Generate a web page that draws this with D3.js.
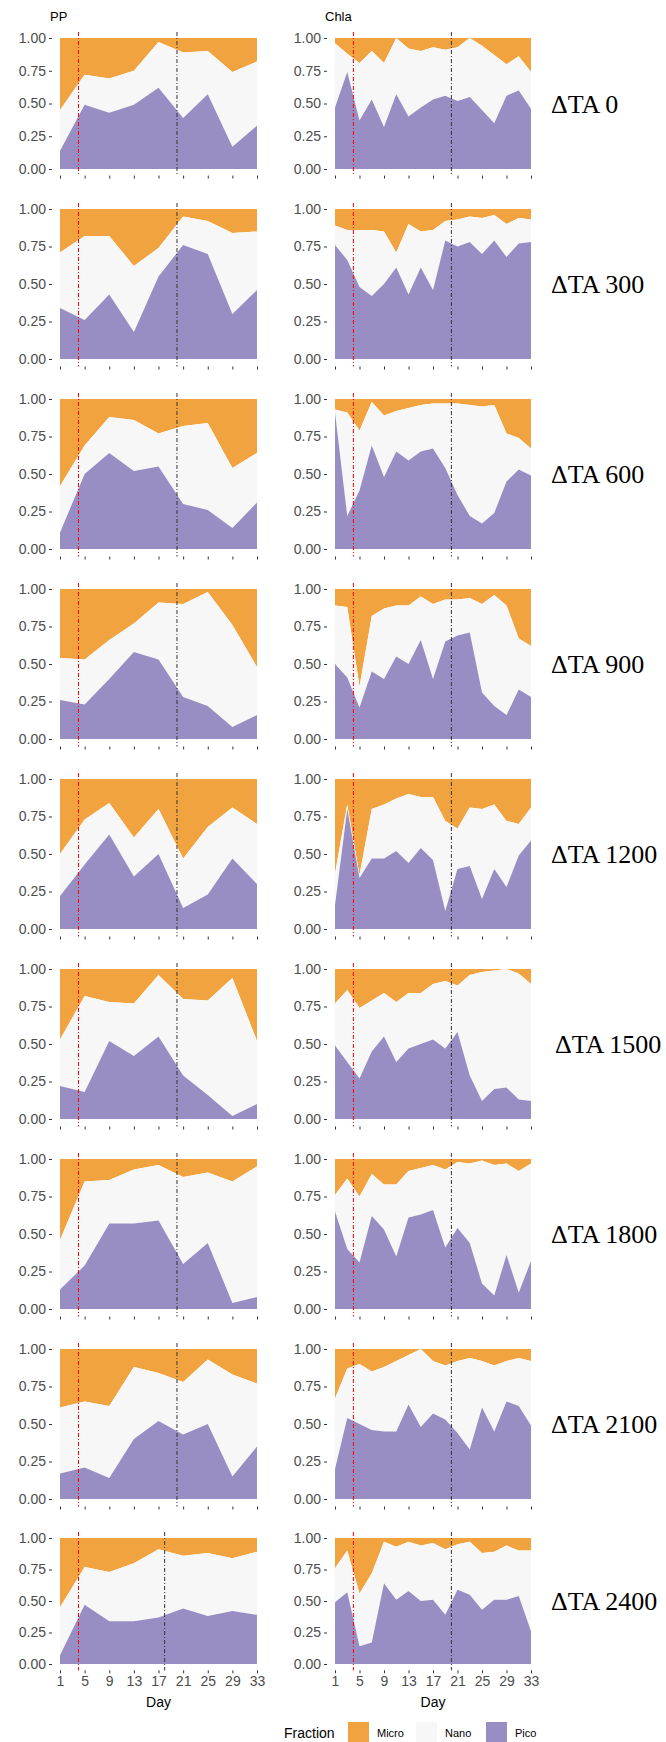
<!DOCTYPE html>
<html>
<head>
<meta charset="utf-8">
<script src="https://cdn.jsdelivr.net/npm/d3@7"></script>
<style>
  body { margin: 0; background: #fff; }
  svg { display: block; font-family: "Liberation Sans", Arial, sans-serif; }
</style>
</head>
<body>
<svg id="chart" width="666" height="1742"></svg>
<script>
// sample days
const ppDays = [1, 5, 9, 13, 17, 21, 25, 29, 33];
const chlaDays = d3.range(1, 34, 2);

const treatments = ["ΔTA 0", "ΔTA 300", "ΔTA 600", "ΔTA 900", "ΔTA 1200",
                    "ΔTA 1500", "ΔTA 1800", "ΔTA 2100", "ΔTA 2400"];

// PP: pico fraction and pico+nano (upper edge of nano) per treatment
const ppPico = [
  [0.14, 0.49, 0.43, 0.49, 0.62, 0.39, 0.57, 0.17, 0.33],
  [0.34, 0.26, 0.43, 0.18, 0.55, 0.76, 0.70, 0.30, 0.46],
  [0.11, 0.50, 0.64, 0.52, 0.55, 0.30, 0.26, 0.14, 0.31],
  [0.26, 0.23, 0.40, 0.58, 0.53, 0.28, 0.22, 0.08, 0.16],
  [0.22, 0.43, 0.63, 0.35, 0.50, 0.14, 0.23, 0.47, 0.30],
  [0.22, 0.18, 0.52, 0.42, 0.55, 0.29, 0.16, 0.02, 0.10],
  [0.13, 0.29, 0.57, 0.57, 0.59, 0.30, 0.44, 0.04, 0.08],
  [0.17, 0.21, 0.14, 0.40, 0.52, 0.43, 0.50, 0.15, 0.35],
  [0.07, 0.47, 0.34, 0.34, 0.37, 0.44, 0.38, 0.42, 0.39]
];
const ppPicoNano = [
  [0.45, 0.72, 0.69, 0.75, 0.97, 0.89, 0.90, 0.74, 0.82],
  [0.71, 0.82, 0.82, 0.62, 0.74, 0.95, 0.92, 0.84, 0.85],
  [0.42, 0.69, 0.88, 0.86, 0.77, 0.82, 0.84, 0.54, 0.64],
  [0.54, 0.53, 0.66, 0.77, 0.91, 0.90, 0.98, 0.76, 0.48],
  [0.50, 0.73, 0.84, 0.61, 0.80, 0.47, 0.68, 0.81, 0.70],
  [0.53, 0.82, 0.78, 0.77, 0.96, 0.80, 0.79, 0.94, 0.52],
  [0.46, 0.85, 0.86, 0.93, 0.96, 0.88, 0.91, 0.85, 0.95],
  [0.61, 0.65, 0.62, 0.88, 0.84, 0.78, 0.93, 0.83, 0.77],
  [0.45, 0.77, 0.73, 0.80, 0.91, 0.86, 0.88, 0.84, 0.89]
];

// Chla: pico fraction and pico+nano per treatment
const chlaPico = [
  [0.47, 0.74, 0.37, 0.53, 0.32, 0.57, 0.40, 0.47, 0.53, 0.56, 0.52, 0.55, 0.45, 0.35, 0.56, 0.60, 0.46],
  [0.76, 0.66, 0.48, 0.42, 0.50, 0.61, 0.43, 0.61, 0.46, 0.79, 0.75, 0.78, 0.70, 0.79, 0.68, 0.77, 0.78],
  [0.91, 0.22, 0.39, 0.69, 0.48, 0.65, 0.59, 0.65, 0.67, 0.54, 0.36, 0.22, 0.17, 0.24, 0.45, 0.53, 0.49],
  [0.50, 0.41, 0.21, 0.45, 0.40, 0.55, 0.50, 0.66, 0.40, 0.65, 0.69, 0.71, 0.31, 0.22, 0.16, 0.33, 0.28],
  [0.16, 0.80, 0.34, 0.47, 0.47, 0.52, 0.44, 0.54, 0.46, 0.12, 0.40, 0.42, 0.20, 0.40, 0.28, 0.49, 0.59],
  [0.49, 0.38, 0.27, 0.45, 0.55, 0.38, 0.47, 0.50, 0.53, 0.47, 0.58, 0.29, 0.12, 0.20, 0.21, 0.13, 0.12],
  [0.65, 0.40, 0.31, 0.62, 0.53, 0.35, 0.61, 0.63, 0.66, 0.41, 0.54, 0.44, 0.17, 0.09, 0.36, 0.11, 0.32],
  [0.20, 0.54, 0.50, 0.46, 0.45, 0.45, 0.63, 0.48, 0.57, 0.53, 0.44, 0.33, 0.61, 0.45, 0.65, 0.62, 0.49],
  [0.49, 0.57, 0.14, 0.17, 0.64, 0.51, 0.58, 0.50, 0.51, 0.39, 0.59, 0.55, 0.43, 0.51, 0.51, 0.54, 0.26]
];
const chlaPicoNano = [
  [0.96, 0.88, 0.81, 0.90, 0.81, 1.00, 0.92, 0.90, 0.93, 0.91, 0.93, 1.00, 0.94, 0.87, 0.80, 0.86, 0.74],
  [0.89, 0.86, 0.86, 0.86, 0.85, 0.71, 0.90, 0.85, 0.86, 0.92, 0.93, 0.95, 0.94, 0.96, 0.90, 0.94, 0.93],
  [0.93, 0.91, 0.79, 0.98, 0.89, 0.92, 0.94, 0.96, 0.97, 0.97, 0.97, 0.96, 0.95, 0.96, 0.77, 0.74, 0.67],
  [0.89, 0.88, 0.35, 0.82, 0.87, 0.89, 0.89, 0.95, 0.90, 0.93, 0.93, 0.94, 0.90, 0.96, 0.89, 0.67, 0.62],
  [0.37, 0.83, 0.36, 0.80, 0.83, 0.87, 0.90, 0.88, 0.88, 0.72, 0.67, 0.81, 0.80, 0.83, 0.72, 0.70, 0.81],
  [0.77, 0.86, 0.74, 0.79, 0.84, 0.78, 0.84, 0.84, 0.90, 0.92, 0.89, 0.96, 0.98, 0.99, 1.00, 0.97, 0.90],
  [0.76, 0.87, 0.75, 0.90, 0.83, 0.83, 0.92, 0.94, 0.96, 0.93, 0.98, 0.97, 0.99, 0.96, 0.97, 0.92, 0.97],
  [0.67, 0.87, 0.90, 0.85, 0.88, 0.92, 0.96, 1.00, 0.92, 0.89, 0.92, 0.94, 0.92, 0.89, 0.92, 0.94, 0.92],
  [0.76, 0.90, 0.56, 0.72, 0.97, 0.93, 0.97, 0.94, 0.96, 0.91, 0.95, 0.97, 0.88, 0.89, 0.94, 0.90, 0.90]
];

// reference lines (day): red = start, grey = second event
const redDay = 4;
const ppBlackDay = [20, 20, 20, 20, 20, 20, 20, 20, 18];
const chlaBlackDay = 20;

const fractions = ["Micro", "Nano", "Pico"];
const colors = { Micro: "#F1A340", Nano: "#F7F7F7", Pico: "#998EC3" };
const xTicks = [1, 5, 9, 13, 17, 21, 25, 29, 33];
const yTicks = [0, 0.25, 0.5, 0.75, 1];

const svg = d3.select("#chart");

// panel rows: first row shorter (titles), last row shorter (axis)
function rowBox(i) {
  if (i === 0) return { top: 38, h: 131 };
  if (i === 8) return { top: 1538, h: 126 };
  return { top: 209 + 190 * (i - 1), h: 150 };
}

const cols = [
  { x0: 60, x1: 257, days: ppDays, pico: ppPico, top: ppPicoNano, title: "PP" },
  { x0: 335, x1: 531, days: chlaDays, pico: chlaPico, top: chlaPicoNano, title: "Chla" }
];

cols.forEach((c, ci) => {
  svg.append("text").attr("x", c.x0 - 10).attr("y", 21)
    .attr("font-size", 13).attr("fill", "#000").text(c.title);

  treatments.forEach((t, ri) => {
    const b = rowBox(ri);
    const x = d3.scaleLinear().domain([1, 33]).range([c.x0, c.x1]);
    const y = d3.scaleLinear().domain([0, 1]).range([b.top + b.h, b.top]);
    const axisY = b.top + b.h + b.h * 0.05;
    const g = svg.append("g");

    const pts = c.days.map((d, k) => ({ day: d, pico: c.pico[ri][k], pn: c.top[ri][k] }));

    g.append("path").datum(pts).attr("fill", colors.Micro)
      .attr("d", d3.area().x(p => x(p.day)).y0(p => y(p.pn)).y1(y(1)));
    g.append("path").datum(pts).attr("fill", colors.Nano)
      .attr("d", d3.area().x(p => x(p.day)).y0(p => y(p.pico)).y1(p => y(p.pn)));
    g.append("path").datum(pts).attr("fill", colors.Pico)
      .attr("d", d3.area().x(p => x(p.day)).y0(y(0)).y1(p => y(p.pico)));

    // y axis
    const ya = g.append("g").attr("transform", `translate(${c.x0 - 8},0)`)
      .call(d3.axisLeft(y).tickValues(yTicks).tickFormat(d3.format(".2f")).tickSize(3).tickPadding(3));
    ya.select(".domain").remove();
    ya.selectAll("line").attr("stroke", "#333");
    ya.selectAll("text").attr("font-size", 14).attr("fill", "#4D4D4D")
      .attr("font-family", "Liberation Sans, Arial, sans-serif");

    // x axis
    const xa = g.append("g").attr("transform", `translate(0,${axisY})`)
      .call(d3.axisBottom(x).tickValues(xTicks).tickSize(3).tickPadding(3)
        .tickFormat(ri === 8 ? d3.format("d") : ""));
    xa.select(".domain").remove();
    xa.selectAll("line").attr("stroke", "#333");
    xa.selectAll("text").attr("font-size", 14).attr("fill", "#4D4D4D")
      .attr("font-family", "Liberation Sans, Arial, sans-serif");

    // reference lines
    const bd = ci === 0 ? ppBlackDay[ri] : chlaBlackDay;
    g.append("line").attr("x1", x(redDay)).attr("x2", x(redDay))
      .attr("y1", b.top - 6).attr("y2", axisY)
      .attr("stroke", "#FF0000").attr("stroke-width", 1).attr("stroke-dasharray", "4,2,1,2");
    g.append("line").attr("x1", x(bd)).attr("x2", x(bd))
      .attr("y1", b.top - 6).attr("y2", axisY)
      .attr("stroke", "#333").attr("stroke-width", 1).attr("stroke-dasharray", "4,2,1,2");

    if (ri === 8) {
      g.append("text").attr("x", (c.x0 + c.x1) / 2).attr("y", 1707)
        .attr("text-anchor", "middle").attr("font-size", 14).attr("fill", "#000").text("Day");
    }
    if (ci === 1) {
      svg.append("text").attr("x", t === "ΔTA 1500" ? 555 : 551).attr("y", b.top + b.h / 2 + 9)
        .attr("font-family", "Liberation Serif, Times New Roman, serif")
        .attr("font-size", 26).attr("fill", "#000").text(t);
    }
  });
});

// legend
const leg = svg.append("g");
leg.append("text").attr("x", 284).attr("y", 1738).attr("font-size", 14).text("Fraction");
const keyX = [348, 416, 486];
fractions.forEach((f, i) => {
  leg.append("rect").attr("x", keyX[i]).attr("y", 1722).attr("width", 21).attr("height", 21)
    .attr("fill", colors[f]);
  leg.append("text").attr("x", keyX[i] + 29).attr("y", 1737).attr("font-size", 11).text(f);
});
</script>
</body>
</html>
